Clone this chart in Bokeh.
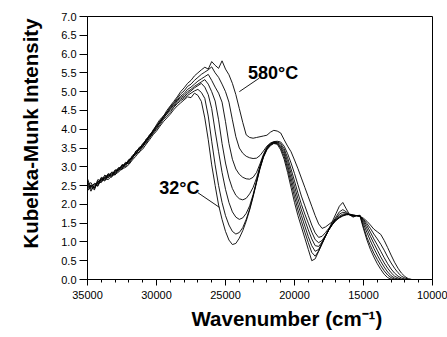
from bokeh.plotting import figure
from bokeh.models import Range1d, FixedTicker, PrintfTickFormatter, Label, Title
from bokeh.embed import file_html
from bokeh.resources import INLINE

# ---------------- data ----------------
wavenumber = list(range(35000, 11250, -250))  # cm-1 sampling, 35000 ... 11500

km_1 = [2.62, 2.40, 2.46, 2.55, 2.60, 2.68, 2.66, 2.75, 2.80, 2.86, 2.95, 2.98, 3.06, 3.18, 3.28, 3.40, 3.47, 3.60, 3.72, 3.85, 3.95, 4.08, 4.20, 4.30, 4.40, 4.52, 4.62, 4.70,
        4.78, 4.86, 4.84, 4.96, 4.90, 4.74, 4.30, 3.72, 3.05, 2.50, 1.98, 1.60, 1.28, 1.05, 0.93, 0.96, 1.10, 1.30, 1.55, 1.85, 2.20, 2.58, 2.95, 3.25, 3.45, 3.56, 3.62, 3.60, 3.45, 3.20, 2.85, 2.45, 2.05, 1.70, 1.40, 1.10, 0.80, 0.50, 0.55, 0.75, 0.95, 1.15, 1.35, 1.55, 1.75, 1.95, 2.05, 1.88, 1.72, 1.66, 1.70, 1.68, 1.35, 1.05, 0.80, 0.60, 0.42, 0.27, 0.14, 0.05, 0.01, 0, 0, 0, 0, 0, 0]
km_2 = [2.45, 2.50, 2.38, 2.62, 2.58, 2.74, 2.70, 2.82, 2.78, 2.95, 2.92, 3.10, 3.08, 3.22, 3.36, 3.38, 3.56, 3.62, 3.78, 3.88, 4.00, 4.12, 4.26, 4.35, 4.45, 4.58, 4.68, 4.76,
        4.82, 4.90, 4.96, 5.02, 5.06, 4.98, 4.82, 4.35, 3.68, 3.05, 2.50, 2.05, 1.70, 1.45, 1.28, 1.21, 1.25, 1.38, 1.60, 1.88, 2.22, 2.60, 2.97, 3.27, 3.47, 3.58, 3.63, 3.62, 3.50, 3.28, 2.95, 2.58, 2.20, 1.85, 1.55, 1.26, 0.98, 0.72, 0.62, 0.76, 0.96, 1.15, 1.33, 1.50, 1.66, 1.80, 1.86, 1.80, 1.72, 1.68, 1.70, 1.70, 1.40, 1.12, 0.90, 0.70, 0.53, 0.37, 0.23, 0.12, 0.05, 0.01, 0, 0, 0, 0, 0]
km_3 = [2.55, 2.35, 2.52, 2.50, 2.70, 2.64, 2.80, 2.72, 2.90, 2.88, 3.04, 3.00, 3.16, 3.26, 3.32, 3.48, 3.52, 3.70, 3.76, 3.94, 4.02, 4.18, 4.28, 4.42, 4.50, 4.60, 4.72, 4.80,
        4.86, 4.95, 5.02, 5.10, 5.16, 5.22, 5.12, 4.92, 4.55, 3.95, 3.40, 2.85, 2.40, 2.05, 1.80, 1.66, 1.60, 1.64, 1.76, 1.96, 2.26, 2.62, 2.98, 3.28, 3.48, 3.59, 3.64, 3.63, 3.54, 3.35, 3.04, 2.70, 2.34, 2.00, 1.70, 1.42, 1.14, 0.90, 0.75, 0.80, 0.98, 1.16, 1.33, 1.48, 1.62, 1.74, 1.79, 1.77, 1.72, 1.69, 1.70, 1.71, 1.48, 1.25, 1.03, 0.83, 0.65, 0.48, 0.33, 0.20, 0.10, 0.04, 0.01, 0, 0, 0, 0]
km_4 = [2.40, 2.52, 2.44, 2.66, 2.62, 2.78, 2.72, 2.86, 2.84, 2.98, 2.96, 3.08, 3.14, 3.30, 3.38, 3.44, 3.60, 3.66, 3.84, 3.90, 4.08, 4.16, 4.32, 4.40, 4.54, 4.64, 4.76, 4.84,
        4.90, 5.00, 5.06, 5.14, 5.20, 5.26, 5.32, 5.20, 5.00, 4.75, 4.25, 3.62, 3.10, 2.70, 2.42, 2.24, 2.15, 2.12, 2.16, 2.28, 2.45, 2.70, 3.02, 3.30, 3.50, 3.60, 3.65, 3.65, 3.58, 3.42, 3.14, 2.82, 2.48, 2.15, 1.85, 1.58, 1.32, 1.08, 0.90, 0.88, 1.00, 1.17, 1.33, 1.47, 1.59, 1.69, 1.74, 1.75, 1.72, 1.70, 1.70, 1.70, 1.54, 1.35, 1.15, 0.96, 0.78, 0.60, 0.44, 0.30, 0.18, 0.09, 0.04, 0.01, 0, 0, 0]
km_5 = [2.68, 2.44, 2.56, 2.54, 2.72, 2.68, 2.82, 2.78, 2.92, 2.90, 3.06, 3.04, 3.18, 3.24, 3.40, 3.50, 3.58, 3.72, 3.82, 3.96, 4.06, 4.22, 4.30, 4.46, 4.56, 4.68, 4.78, 4.88,
        4.95, 5.06, 5.12, 5.20, 5.28, 5.34, 5.40, 5.46, 5.30, 5.12, 4.96, 4.72, 4.20, 3.62, 3.20, 2.94, 2.80, 2.72, 2.68, 2.67, 2.72, 2.85, 3.08, 3.33, 3.52, 3.62, 3.66, 3.66, 3.62, 3.48, 3.24, 2.94, 2.62, 2.30, 2.00, 1.74, 1.50, 1.26, 1.06, 0.98, 1.04, 1.18, 1.33, 1.46, 1.57, 1.65, 1.71, 1.74, 1.73, 1.71, 1.70, 1.69, 1.58, 1.43, 1.26, 1.08, 0.92, 0.75, 0.58, 0.42, 0.28, 0.17, 0.09, 0.04, 0.01, 0, 0]
km_6 = [2.50, 2.58, 2.42, 2.60, 2.66, 2.72, 2.78, 2.76, 2.88, 2.96, 2.98, 3.12, 3.10, 3.28, 3.34, 3.52, 3.54, 3.74, 3.80, 3.98, 4.10, 4.20, 4.36, 4.44, 4.60, 4.70, 4.82, 4.94,
        5.02, 5.14, 5.20, 5.30, 5.38, 5.46, 5.52, 5.58, 5.66, 5.50, 5.38, 5.20, 5.00, 4.72, 4.25, 3.80, 3.50, 3.36, 3.28, 3.24, 3.22, 3.23, 3.30, 3.42, 3.55, 3.63, 3.67, 3.68, 3.66, 3.55, 3.35, 3.10, 2.82, 2.52, 2.22, 1.96, 1.70, 1.45, 1.24, 1.12, 1.15, 1.25, 1.37, 1.48, 1.57, 1.64, 1.69, 1.72, 1.73, 1.71, 1.70, 1.68, 1.60, 1.49, 1.36, 1.21, 1.08, 0.94, 0.78, 0.60, 0.44, 0.30, 0.18, 0.09, 0.04, 0.01, 0]
km_7 = [2.36, 2.48, 2.54, 2.48, 2.68, 2.62, 2.76, 2.84, 2.82, 2.94, 3.02, 3.06, 3.20, 3.22, 3.42, 3.46, 3.62, 3.70, 3.86, 3.94, 4.12, 4.26, 4.34, 4.50, 4.62, 4.74, 4.86, 5.00,
        5.10, 5.22, 5.30, 5.42, 5.50, 5.58, 5.65, 5.60, 5.80, 5.70, 5.62, 5.82, 5.60, 5.45, 5.22, 4.92, 4.55, 4.18, 3.85, 3.78, 3.76, 3.78, 3.80, 3.82, 3.84, 3.92, 3.97, 3.95, 3.90, 3.72, 3.55, 3.40, 3.18, 2.95, 2.70, 2.45, 2.20, 1.95, 1.70, 1.48, 1.36, 1.40, 1.47, 1.54, 1.60, 1.66, 1.70, 1.73, 1.74, 1.72, 1.70, 1.68, 1.63, 1.55, 1.45, 1.34, 1.27, 1.20, 1.04, 0.85, 0.65, 0.46, 0.30, 0.17, 0.08, 0.02, 0.00]

curves = [km_1, km_2, km_3, km_4, km_5, km_6, km_7]

x_major_ticks = [35000, 30000, 25000, 20000, 15000, 10000]
x_minor_ticks = [34000, 33000, 32000, 31000, 29000, 28000, 27000, 26000, 24000, 23000, 22000, 21000,
                 19000, 18000, 17000, 16000, 14000, 13000, 12000, 11000]
y_ticks = [0.0, 0.5, 1.0, 1.5, 2.0, 2.5, 3.0, 3.5, 4.0, 4.5, 5.0, 5.5, 6.0, 6.5, 7.0]

x_title = "Wavenumber (cm\u207b\u00b9)"
y_title = "Kubelka-Munk Intensity"
label_hot = "580\u00b0C"
label_cold = "32\u00b0C"

for c in curves:
    assert len(c) == len(wavenumber), (len(c), len(wavenumber))

FONT = "Liberation Sans"

# ---------------- figure ----------------
p = figure(width=447, height=337, output_backend="svg", toolbar_location=None,
           x_range=Range1d(35000, 10000), y_range=Range1d(0, 7),
           min_border_left=86, min_border_right=15, min_border_top=16, min_border_bottom=58)
p.xgrid.visible = False
p.ygrid.visible = False
p.background_fill_color = "white"
p.border_fill_color = "white"
p.outline_line_color = "black"
p.outline_line_width = 1
p.outline_line_alpha = 1

for c in curves:
    p.line(wavenumber, c, line_color="black", line_width=0.9)

# axes
xa = p.xaxis[0]
xa.ticker = FixedTicker(ticks=x_major_ticks, minor_ticks=x_minor_ticks)
xa.major_tick_in = 0
xa.major_tick_out = 6
xa.minor_tick_in = 0
xa.minor_tick_out = 3
xa.major_label_standoff = 5
xa.minor_tick_line_color = "black"

ya = p.yaxis[0]
ya.ticker = FixedTicker(ticks=y_ticks)
ya.formatter = PrintfTickFormatter(format="%.1f")
ya.major_tick_in = 0
ya.major_tick_out = 8
ya.minor_tick_line_color = None
ya.major_label_standoff = 3

for ax in (xa, ya):
    ax.axis_line_color = "black"
    ax.major_tick_line_color = "black"
    ax.major_label_text_font = FONT
    ax.major_label_text_font_size = "11px"
    ax.major_label_text_color = "black"

# axis titles as side titles (offset along the side, like the reference)
p.add_layout(Title(text=x_title, align="left", offset=104, standoff=6,
                   text_font=FONT, text_font_size="20.5px", text_font_style="bold",
                   text_color="black"), "below")
p.add_layout(Title(text=y_title, align="left", offset=31, standoff=33,
                   text_font=FONT, text_font_size="20.5px", text_font_style="bold",
                   text_color="black"), "left")

# curve annotations
p.add_layout(Label(x=23368, y=5.50, text=label_hot, text_align="left", text_baseline="alphabetic",
                   text_font=FONT, text_font_size="18px", text_font_style="bold", text_color="black"))
p.add_layout(Label(x=29798, y=2.43, text=label_cold, text_align="left", text_baseline="alphabetic",
                   text_font=FONT, text_font_size="18px", text_font_style="bold", text_color="black"))
p.segment(x0=[23996, 27002], y0=[5.00, 2.31], x1=[22551, 25441], y1=[5.36, 1.92],
          line_color="black", line_width=0.9)

open("out.html", "w").write(file_html(p, INLINE))
